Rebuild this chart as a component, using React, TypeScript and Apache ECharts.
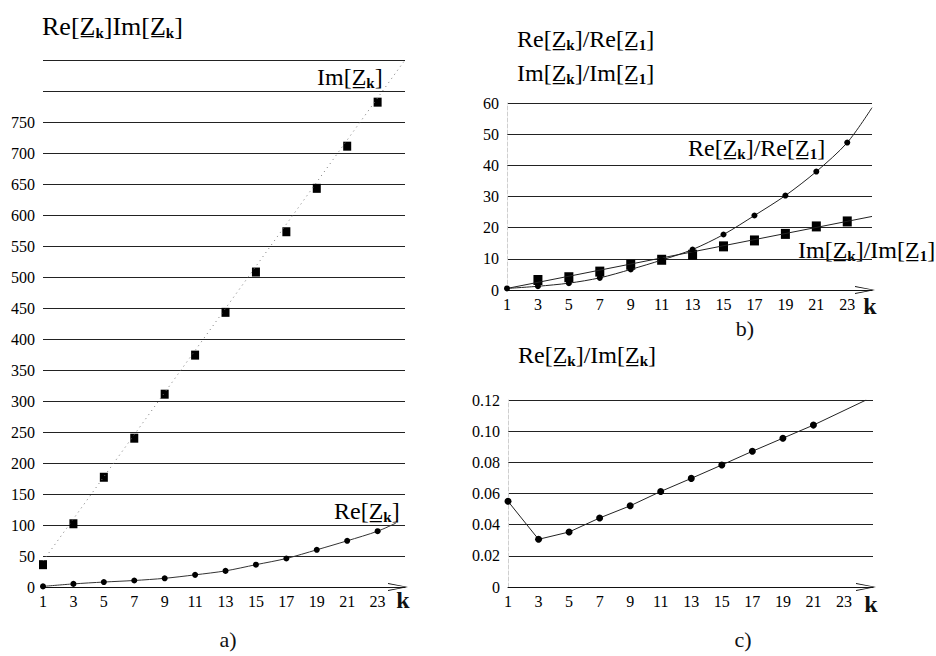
import React, { useEffect, useRef } from 'react';
import * as echarts from 'echarts';

// ---------- data ----------
const kValues = [1, 3, 5, 7, 9, 11, 13, 15, 17, 19, 21, 23];
// panel a)
const imZ = [36, 102, 177, 240, 311, 374, 443, 508, 573, 643, 711, 782];
const reZ = [1, 5, 8, 10.5, 14, 19.6, 26, 36, 46, 60, 74.5, 90];
const reZEnd = [24.2, 103];
const imZTrend = [[1, 42], [24.8, 850]];
// panel b)
const reRatio = [0.5, 1.2, 2.2, 3.9, 6.6, 9.6, 13, 17.8, 23.9, 30.3, 38, 47.3];
const reRatioEnd = [24.6, 58.5];
const imRatioK = [3, 5, 7, 9, 11, 13, 15, 17, 19, 21, 23];
const imRatio = [3.2, 4.1, 5.9, 8.1, 9.7, 11.3, 14, 15.9, 18, 20.4, 22];
const imRatioTrend = [[1, 0.5], [24.6, 23.6]];
// panel c)
const reImK = [1, 3, 5, 7, 9, 11, 13, 15, 17, 19, 21];
const reIm = [0.055, 0.0306, 0.0353, 0.0443, 0.0521, 0.0613, 0.0697, 0.0783, 0.0871, 0.0955, 0.1039];
const reImEnd = [24.45, 0.12];

const FONT = 'Liberation Serif';
const Z = 'Z\u0332';

const mkRich = (size: number) => ({
  n: { fontFamily: FONT, fontSize: size, lineHeight: size + 2, color: '#111' },
  s: { fontFamily: FONT, fontSize: 15, lineHeight: 9, verticalAlign: 'bottom', color: '#111', fontWeight: 'bold' },
});
const rich = mkRich(24);
const richBig = mkRich(26);

const ratioLabel = (a: string, sa: string, b: string, sb: string) =>
  `{n|${a}[${Z}}{s|${sa}}{n|]/${b}[${Z}}{s|${sb}}{n|]}`;

const chevron = 'path://M0,20L4,0L8,20L7,20L4,3L1,20Z';

export default function App() {
  const ref = useRef<HTMLDivElement>(null);
  useEffect(() => {
    const chart = echarts.init(ref.current!, null, { renderer: 'svg' });
    const tickLabel = { fontFamily: FONT, fontSize: 16, color: '#000' };
    const xAxisBase = (gridIndex: number, max: number) => ({
      type: 'value',
      gridIndex,
      min: 1,
      max,
      interval: 2,
      axisLine: {
        show: true,
        onZero: false,
        lineStyle: { color: '#111', width: 1 },
        symbol: ['none', chevron],
        symbolSize: [8, 20],
        symbolOffset: [0, -7],
      },
      axisTick: { show: false },
      splitLine: { show: false },
      axisLabel: {
        ...tickLabel,
        margin: 6,
        formatter: (v: number) => (Number.isInteger(v) && v % 2 === 1 ? String(v) : ''),
      },
    });
    const yAxisBase = (gridIndex: number, max: number, interval: number, fmt: (v: number) => string, showLine: boolean) => ({
      type: 'value',
      gridIndex,
      min: 0,
      max,
      interval,
      axisLine: { show: showLine, lineStyle: { color: '#cfcfcf', type: 'dashed', width: 1 } },
      axisTick: { show: false },
      splitLine: { show: true, lineStyle: { color: '#222', width: 1 } },
      axisLabel: { ...tickLabel, margin: 8, formatter: fmt },
    });

    const option: any = {
      animation: false,
      backgroundColor: '#fff',
      textStyle: { fontFamily: FONT },
      grid: [
        { left: 43, top: 60, width: 362, height: 527 },
        { left: 507, top: 103, width: 365, height: 187 },
        { left: 508, top: 400, width: 365, height: 187 },
      ],
      xAxis: [xAxisBase(0, 24.8), xAxisBase(1, 24.6), xAxisBase(2, 24.9)],
      yAxis: [
        yAxisBase(0, 850, 50, (v) => (v > 750 ? '' : String(v)), false),
        yAxisBase(1, 60, 10, (v) => String(v), true),
        yAxisBase(2, 0.12, 0.02, (v) => (v === 0 ? '0' : v.toFixed(2)), true),
      ],
      series: [
        {
          type: 'line', xAxisIndex: 0, yAxisIndex: 0, data: imZTrend, symbol: 'none',
          lineStyle: { color: '#777', width: 1, type: [1, 4] },
        },
        {
          type: 'scatter', xAxisIndex: 0, yAxisIndex: 0,
          data: kValues.map((k, i) => [k, imZ[i]]),
          symbol: 'rect', symbolSize: [8, 9], itemStyle: { color: '#000', opacity: 1 },
        },
        {
          type: 'line', xAxisIndex: 0, yAxisIndex: 0, smooth: 0.3,
          data: [...kValues.map((k, i) => [k, reZ[i]]), { value: reZEnd, symbol: 'none' }],
          symbol: 'circle', symbolSize: 6, showAllSymbol: true,
          lineStyle: { color: '#333', width: 1 }, itemStyle: { color: '#000', opacity: 1 },
        },
        {
          type: 'line', xAxisIndex: 1, yAxisIndex: 1, smooth: 0.3,
          data: [...kValues.map((k, i) => [k, reRatio[i]]), { value: reRatioEnd, symbol: 'none' }],
          symbol: 'circle', symbolSize: 6, showAllSymbol: true,
          lineStyle: { color: '#222', width: 1 }, itemStyle: { color: '#000', opacity: 1 },
        },
        {
          type: 'line', xAxisIndex: 1, yAxisIndex: 1, data: imRatioTrend, symbol: 'none',
          lineStyle: { color: '#222', width: 1 },
        },
        {
          type: 'scatter', xAxisIndex: 1, yAxisIndex: 1,
          data: imRatioK.map((k, i) => [k, imRatio[i]]),
          symbol: 'rect', symbolSize: [9, 10], itemStyle: { color: '#000', opacity: 1 },
        },
        {
          type: 'line', xAxisIndex: 2, yAxisIndex: 2,
          data: [...reImK.map((k, i) => [k, reIm[i]]), { value: reImEnd, symbol: 'none' }],
          symbol: 'circle', symbolSize: 7, showAllSymbol: true,
          lineStyle: { color: '#222', width: 1 }, itemStyle: { color: '#000', opacity: 1 },
        },
      ],
      graphic: [
        { type: 'text', x: 42, y: 26, style: { text: `{n|Re[${Z}}{s|k}{n|]Im[${Z}}{s|k}{n|]}`, rich: richBig, verticalAlign: 'middle' } },
        { type: 'text', x: 317, y: 77, style: { text: `{n|Im[${Z}}{s|k}{n|]}`, rich, verticalAlign: 'middle' } },
        { type: 'text', x: 334, y: 511, style: { text: `{n|Re[${Z}}{s|k}{n|]}`, rich, verticalAlign: 'middle' } },
        { type: 'text', x: 517, y: 39, style: { text: ratioLabel('Re', 'k', 'Re', '1'), rich, verticalAlign: 'middle' } },
        { type: 'text', x: 517, y: 73, style: { text: ratioLabel('Im', 'k', 'Im', '1'), rich, verticalAlign: 'middle' } },
        { type: 'text', x: 688, y: 148, style: { text: ratioLabel('Re', 'k', 'Re', '1'), rich, verticalAlign: 'middle' } },
        { type: 'text', x: 798, y: 250, style: { text: ratioLabel('Im', 'k', 'Im', '1'), rich, verticalAlign: 'middle' } },
        { type: 'text', x: 518, y: 355, style: { text: ratioLabel('Re', 'k', 'Im', 'k'), rich, verticalAlign: 'middle' } },
        { type: 'text', x: 403, y: 600, style: { text: 'k', font: `bold 24px ${FONT}`, fill: '#111', align: 'center', verticalAlign: 'middle' } },
        { type: 'text', x: 870, y: 306, style: { text: 'k', font: `bold 24px ${FONT}`, fill: '#111', align: 'center', verticalAlign: 'middle' } },
        { type: 'text', x: 871, y: 604, style: { text: 'k', font: `bold 24px ${FONT}`, fill: '#111', align: 'center', verticalAlign: 'middle' } },
        { type: 'text', x: 228, y: 639, style: { text: 'a)', font: `22px ${FONT}`, fill: '#111', align: 'center', verticalAlign: 'middle' } },
        { type: 'text', x: 745, y: 328, style: { text: 'b)', font: `22px ${FONT}`, fill: '#111', align: 'center', verticalAlign: 'middle' } },
        { type: 'text', x: 743, y: 639, style: { text: 'c)', font: `22px ${FONT}`, fill: '#111', align: 'center', verticalAlign: 'middle' } },
      ],
    };
    chart.setOption(option);
    return () => chart.dispose();
  }, []);
  return <div ref={ref} style={{ position: 'fixed', left: 0, top: 0, width: 936, height: 656 }} />;
}
